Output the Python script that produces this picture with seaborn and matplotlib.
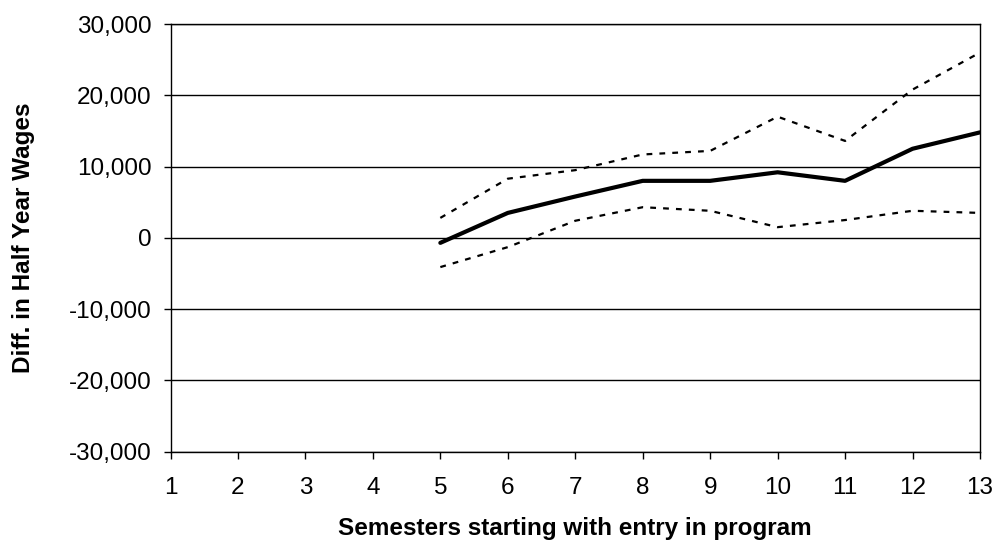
import pandas as pd
import seaborn as sns
import matplotlib
matplotlib.use("Agg")
import matplotlib.pyplot as plt
from matplotlib.ticker import FuncFormatter

# values
semesters = [5, 6, 7, 8, 9, 10, 11, 12, 13]
estimate = [-700, 3500, 5800, 8000, 8000, 9200, 8000, 12500, 14800]
upper_bound = [2800, 8300, 9500, 11700, 12200, 17000, 13600, 20800, 26000]
lower_bound = [-4100, -1300, 2400, 4300, 3800, 1500, 2500, 3800, 3500]

x_ticks = list(range(1, 14))
y_ticks = [-30000, -20000, -10000, 0, 10000, 20000, 30000]

df = pd.DataFrame({
    "semester": semesters,
    "estimate": estimate,
    "upper": upper_bound,
    "lower": lower_bound,
})

sns.set_theme(style="white")
plt.rcParams["font.family"] = ["Liberation Sans", "DejaVu Sans"]

fig = plt.figure(figsize=(10, 5.46), dpi=100)
ax = fig.add_axes([0.1705, 0.1727, 0.8095, 0.7833])

# horizontal grid lines
for yv in y_ticks:
    ax.axhline(yv, color="black", linewidth=1.0, zorder=1)

dash = (0, (2.6, 3.2))
sns.lineplot(data=df, x="semester", y="upper", ax=ax, color="black",
             linewidth=1.6, linestyle=dash, zorder=3)
sns.lineplot(data=df, x="semester", y="lower", ax=ax, color="black",
             linewidth=1.6, linestyle=dash, zorder=3)
sns.lineplot(data=df, x="semester", y="estimate", ax=ax, color="black",
             linewidth=3.0, zorder=4)

ax.set_xlim(1, 13)
ax.set_ylim(-30000, 30000)
ax.set_xticks(x_ticks)
ax.set_yticks(y_ticks)
ax.yaxis.set_major_formatter(FuncFormatter(lambda v, p: f"{int(v):,}"))

for s in ax.spines.values():
    s.set_color("black")
    s.set_linewidth(1.0)

ax.tick_params(axis="both", which="major", direction="out", length=5,
               width=1.0, color="black", labelsize=17.5, labelcolor="black",
               bottom=True, left=True)
ax.tick_params(axis="x", pad=13.5)
ax.tick_params(axis="y", pad=8.5)

ax.set_xlabel("Semesters starting with entry in program", fontsize=17.5,
              fontweight="bold", labelpad=13, color="black")
ax.set_ylabel("Diff. in Half Year Wages", fontsize=17.5, fontweight="bold",
              color="black")
ax.yaxis.set_label_coords(-0.168, 0.5)

fig.savefig("out.png", dpi=100, facecolor="white")
